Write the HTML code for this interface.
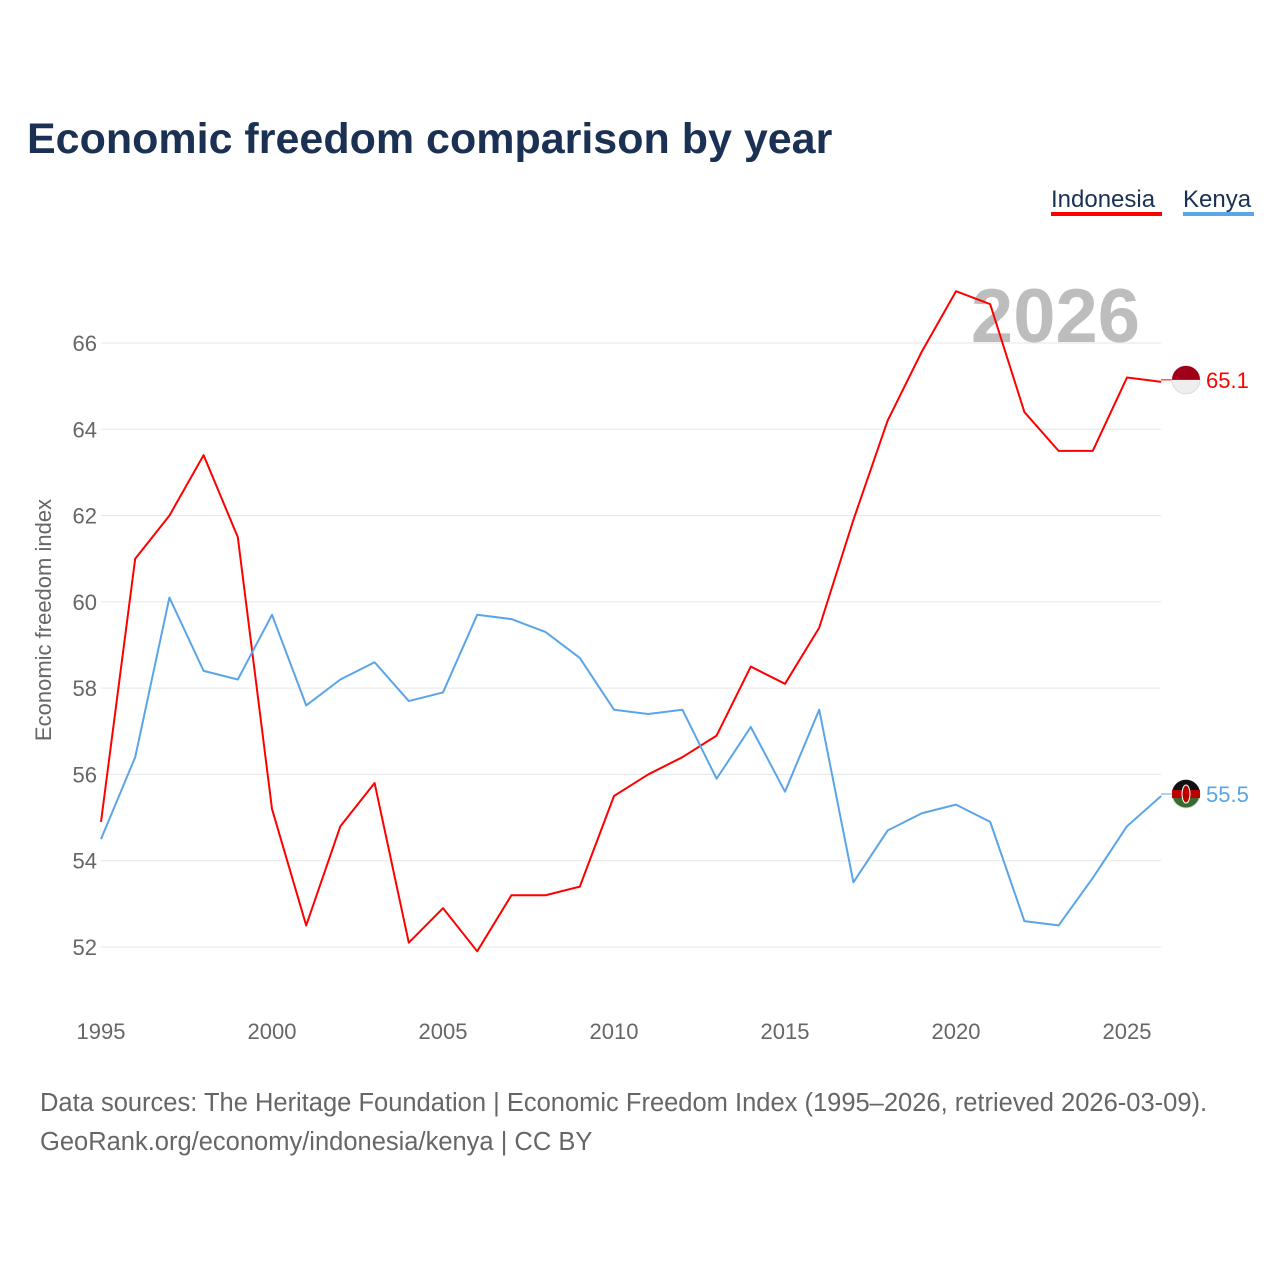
<!DOCTYPE html>
<html><head><meta charset="utf-8">
<style>
body{margin:0;background:#fff;font-family:"Liberation Sans",sans-serif;}
#wrap{position:relative;width:1280px;height:1280px;overflow:hidden;}
</style></head>
<body><div id="wrap">
<svg id="svg" width="1280" height="1280" xmlns="http://www.w3.org/2000/svg">
<text x="27" y="153" font-size="43" font-weight="bold" fill="#1b3153">Economic freedom comparison by year</text>
<g><text x="1051" y="207" font-size="24" fill="#1b3153">Indonesia</text><rect x="1051" y="212" width="111" height="4" fill="#ff0000"/></g>
<g><text x="1183" y="207" font-size="24" fill="#1b3153">Kenya</text><rect x="1183" y="212" width="71" height="4" fill="#5aa5e8"/></g>
<text x="1140" y="342" font-size="76" font-weight="bold" fill="#bdbdbd" text-anchor="end">2026</text>
<text transform="translate(51,620) rotate(-90)" font-size="22" fill="#666" text-anchor="middle">Economic freedom index</text>
<g id="grid"></g><g id="xt"></g><g id="lines"></g>
<text x="40" y="1111" font-size="25.5" fill="#666">Data sources: The Heritage Foundation | Economic Freedom Index (1995–2026, retrieved 2026-03-09).</text>
<text x="40" y="1150" font-size="25.5" fill="#666">GeoRank.org/economy/indonesia/kenya | CC BY</text>
</svg></div>
<script>
const years=[];for(let y=1995;y<=2026;y++)years.push(y);
const indonesia=[54.9,61.0,62.0,63.4,61.5,55.2,52.5,54.8,55.8,52.1,52.9,51.9,53.2,53.2,53.4,55.5,56.0,56.4,56.9,58.5,58.1,59.4,61.9,64.2,65.8,67.2,66.9,64.4,63.5,63.5,65.2,65.1];
const kenya=[54.5,56.4,60.1,58.4,58.2,59.7,57.6,58.2,58.6,57.7,57.9,59.7,59.6,59.3,58.7,57.5,57.4,57.5,55.9,57.1,55.6,57.5,53.5,54.7,55.1,55.3,54.9,52.6,52.5,53.6,54.8,55.5];
const yTicks=[52,54,56,58,60,62,64,66];
const xTicks=[1995,2000,2005,2010,2015,2020,2025];
const X=y=>101+(y-1995)*1026/30;
const Y=v=>343+(66-v)*604/14;
const NS="http://www.w3.org/2000/svg";
function mk(t,a,p){const e=document.createElementNS(NS,t);for(const k in a)e.setAttribute(k,a[k]);p.appendChild(e);return e;}
const grid=document.getElementById('grid'),xt=document.getElementById('xt'),lines=document.getElementById('lines');
yTicks.forEach(v=>{
 const l=mk('line',{x1:101,x2:1161,y1:Y(v),y2:Y(v),stroke:'#e6e6e6','stroke-width':1},grid);
 
 
 const t=mk('text',{x:97,y:Y(v)+8,'font-size':22,fill:'#666','text-anchor':'end'},grid);t.textContent=v;
 
 
});
xTicks.forEach(v=>{
 const t=mk('text',{x:X(v),y:1039,'font-size':22,fill:'#666','text-anchor':'middle'},xt);t.textContent=v;
 
 
});
function series(vals,color,name,label){
 const p=mk('polyline',{points:vals.map((v,i)=>X(years[i])+','+Y(v)).join(' '),fill:'none',stroke:color,'stroke-width':2,'stroke-linejoin':'round'},lines);
 
 
 const last=vals[vals.length-1],ly=Y(last)-2;
 mk('line',{x1:1161,x2:1172,y1:ly,y2:ly,stroke:color,'stroke-width':1},lines);
 const c=mk('circle',{cx:1186,cy:ly,r:14,fill:name==='indonesia'?'#eee':'#3a6b2e',stroke:'#ddd'},lines);
 
 
 if(name==='indonesia'){mk('path',{d:`M1172 ${ly} A14 14 0 0 1 1200 ${ly} Z`,fill:'#a00018'},lines);}
 else{mk('path',{d:`M1172.5 ${ly-4} A14 14 0 0 1 1199.5 ${ly-4} Z`,fill:'#111'},lines);mk('rect',{x:1172,y:ly-4,width:28,height:8,fill:'#b00'},lines);mk('ellipse',{cx:1186,cy:ly,rx:4,ry:9,fill:'#b00',stroke:'#fff','stroke-width':1},lines);}
 const t=mk('text',{x:1206,y:ly+8,'font-size':22,fill:color},lines);t.textContent=label(last);
 
 
}
series(indonesia,'#ff0000','indonesia',v=>v.toFixed(1));
series(kenya,'#5aa5e8','kenya',v=>v.toFixed(1));
</script></body></html>
